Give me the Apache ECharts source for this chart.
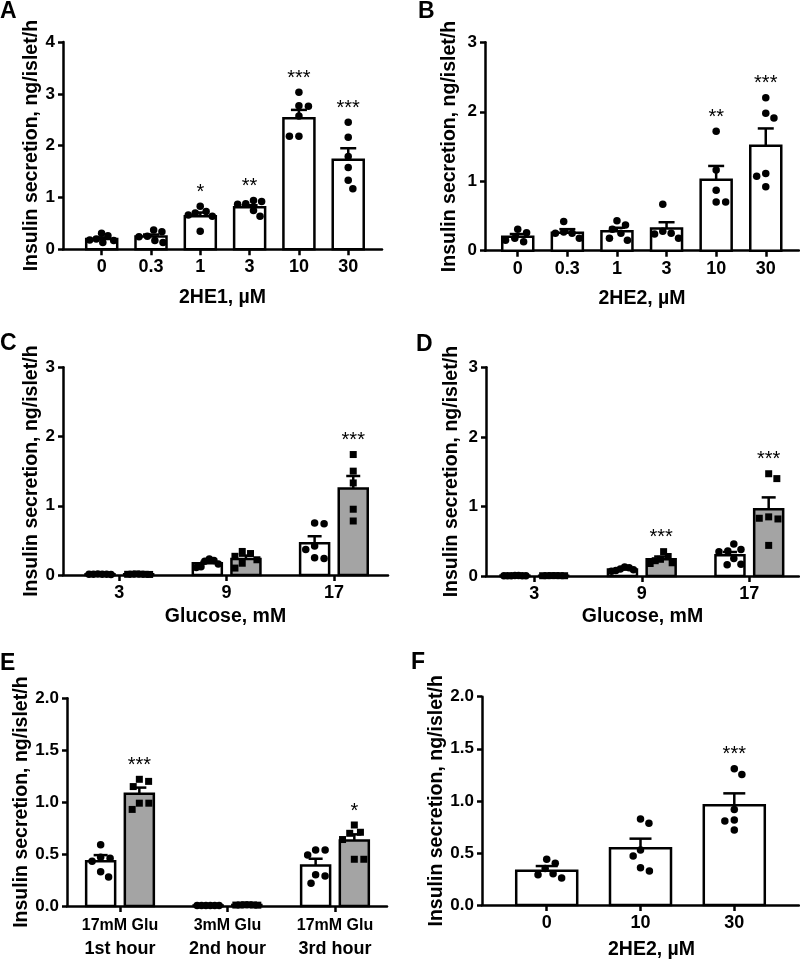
<!DOCTYPE html>
<html><head><meta charset="utf-8">
<script src="https://cdn.jsdelivr.net/npm/echarts@6/dist/echarts.min.js"></script>
<style>html,body{margin:0;padding:0;background:#fff}#c{width:800px;height:965px}</style>
</head><body><div id="c"></div>
<script>
// ================= DATA =================
// Panel A : 2HE1
const catsA = ['0', '0.3', '1', '3', '10', '30'];
const meanA = [0.20, 0.245, 0.64, 0.81, 2.53, 1.73];
const semA  = [0.03, 0.04, 0.07, 0.04, 0.16, 0.22];
const ptsA  = [
  [0.17, 0.20, 0.31, 0.13, 0.26, 0.18],
  [0.24, 0.37, 0.34, 0.13, 0.17, 0.25],
  [0.73, 0.70, 0.66, 0.83, 0.64, 0.35],
  [0.94, 0.88, 0.87, 0.92, 0.64, 0.75],
  [3.03, 2.76, 2.77, 2.57, 2.18, 2.18],
  [2.45, 2.16, 1.79, 1.58, 1.33, 1.17]
];
const sigA  = ['', '', '*', '**', '***', '***'];

// Panel B : 2HE2
const catsB = ['0', '0.3', '1', '3', '10', '30'];
const meanB = [0.20, 0.26, 0.28, 0.32, 1.02, 1.51];
const semB  = [0.04, 0.05, 0.05, 0.09, 0.20, 0.25];
const ptsB  = [
  [0.18, 0.31, 0.26, 0.13, 0.15],
  [0.25, 0.18, 0.42, 0.25, 0.27],
  [0.37, 0.25, 0.15, 0.31, 0.43, 0.18],
  [0.67, 0.25, 0.18, 0.24, 0.28],
  [1.72, 1.16, 0.87, 0.70, 0.70],
  [2.20, 1.91, 1.98, 1.11, 1.07, 0.92]
];
const sigB  = ['', '', '', '', '**', '***'];

// Panel C : Glucose (open = circles, filled = squares)
const catsC = ['3', '9', '17'];
const meanC_open = [0.01, 0.17, 0.46];
const semC_open  = [0.003, 0.02, 0.10];
const ptsC_open  = [
  [0.010, 0.012, 0.015, 0.010, 0.006, 0.012],
  [0.23, 0.20, 0.11, 0.12, 0.21, 0.16],
  [0.74, 0.75, 0.42, 0.37, 0.24, 0.25]
];
const meanC_fill = [0.01, 0.23, 1.25];
const semC_fill  = [0.003, 0.05, 0.18];
const ptsC_fill  = [
  [0.012, 0.010, 0.015, 0.010, 0.008, 0.012],
  [0.31, 0.27, 0.10, 0.34, 0.22, 0.17],
  [1.74, 1.50, 1.33, 0.95, 0.78]
];
const sigC_fill  = ['', '', '***'];

// Panel D : Glucose
const catsD = ['3', '9', '17'];
const meanD_open = [0.005, 0.095, 0.30];
const semD_open  = [0.001, 0.01, 0.045];
const ptsD_open  = [
  [0.005, 0.004, 0.006, 0.005, 0.004, 0.006, 0.005],
  [0.09, 0.12, 0.08, 0.13, 0.10, 0.07],
  [0.46, 0.35, 0.36, 0.38, 0.25, 0.16, 0.17]
];
const meanD_fill = [0.005, 0.24, 0.96];
const semD_fill  = [0.001, 0.04, 0.17];
const ptsD_fill  = [
  [0.005, 0.004, 0.006, 0.005, 0.004, 0.006],
  [0.28, 0.24, 0.35, 0.18, 0.22, 0.19],
  [1.40, 1.47, 0.83, 0.82, 0.85, 0.44]
];
const sigD_fill  = ['', '***', '***'];

// Panel E : sequential hours
const catsE_line1 = ['17mM Glu', '3mM Glu', '17mM Glu'];
const catsE_line2 = ['1st hour', '2nd hour', '3rd hour'];
const meanE_open = [0.43, 0.005, 0.39];
const semE_open  = [0.06, 0.001, 0.065];
const ptsE_open  = [
  [0.59, 0.47, 0.46, 0.33, 0.28, 0.43],
  [0.005, 0.006, 0.004, 0.005, 0.006, 0.004],
  [0.54, 0.49, 0.54, 0.30, 0.22, 0.29]
];
const meanE_fill = [1.08, 0.01, 0.63];
const semE_fill  = [0.06, 0.002, 0.06];
const ptsE_fill  = [
  [1.20, 1.15, 1.22, 0.99, 0.99, 0.93],
  [0.010, 0.012, 0.008, 0.010, 0.012, 0.009],
  [0.78, 0.71, 0.70, 0.64, 0.45, 0.45]
];
const sigE_fill  = ['***', '', '*'];

// Panel F : 2HE2
const catsF = ['0', '10', '30'];
const meanF = [0.33, 0.544, 0.957];
const semF  = [0.044, 0.093, 0.115];
const ptsF  = [
  [0.44, 0.40, 0.30, 0.26, 0.29, 0.35],
  [0.784, 0.826, 0.528, 0.47, 0.326, 0.358],
  [1.309, 1.254, 0.918, 0.816, 0.806, 0.72]
];
const sigF  = ['', '', '***'];

const yNames = 'Insulin secretion, ng/islet/h';

// ================= LAYOUT / STYLE =================
const FONT = 'Liberation Sans, Arial, Helvetica, sans-serif';
const GRAY = '#a4a4a4';
const LW = 2.5;
const DOT = 7.5;

const panels = [
  {key:'A', left:63,  top:42,    width:319, height:207.3, xmin:-0.785, xmax:5.685, ymax:4, yint:1,   dec:0, barW:31, cap:8,  yGap:18, xGap:38, xName:'2HE1, µM', cats:catsA, letter:[0,0],
   groups:[{off:0, mean:meanA, sem:semA, pts:ptsA, fill:'#fff', sym:'circle', sig:sigA}]},
  {key:'B', left:485, top:42.3,  width:314, height:208.4, xmin:-0.66,  xmax:5.67,  ymax:3, yint:1,   dec:0, barW:31, cap:8,  yGap:25, xGap:38, xName:'2HE2, µM', cats:catsB, letter:[418,0],
   groups:[{off:0, mean:meanB, sem:semB, pts:ptsB, fill:'#fff', sym:'circle', sig:sigB}]},
  {key:'C', left:63,  top:367.3, width:325, height:207.7, xmin:-0.525, xmax:2.504, ymax:3, yint:1,   dec:0, barW:29, cap:7,  yGap:18, xGap:32, xName:'Glucose, mM', cats:catsC, letter:[0,332],
   groups:[{off:-0.18, mean:meanC_open, sem:semC_open, pts:ptsC_open, fill:'#fff', sym:'circle', sig:null},
           {off:0.18,  mean:meanC_fill, sem:semC_fill, pts:ptsC_fill, fill:GRAY,  sym:'rect',   sig:sigC_fill}]},
  {key:'D', left:486, top:367.3, width:313, height:208.7, xmin:-0.449, xmax:2.462, ymax:3, yint:1,   dec:0, barW:29, cap:7,  yGap:24, xGap:31, xName:'Glucose, mM', cats:catsD, letter:[416,333],
   groups:[{off:-0.18, mean:meanD_open, sem:semD_open, pts:ptsD_open, fill:'#fff', sym:'circle', sig:null},
           {off:0.18,  mean:meanD_fill, sem:semD_fill, pts:ptsD_fill, fill:GRAY,  sym:'rect',   sig:sigD_fill}]},
  {key:'E', left:67,  top:698.3, width:320, height:207.7, xmin:-0.493, xmax:2.484, ymax:2, yint:0.5, dec:1, barW:29, cap:7,  yGap:30, xGap:0,  xName:'', cats:null, letter:[0,652],
   groups:[{off:-0.18, mean:meanE_open, sem:semE_open, pts:ptsE_open, fill:'#fff', sym:'circle', sig:null},
           {off:0.18,  mean:meanE_fill, sem:semE_fill, pts:ptsE_fill, fill:GRAY,  sym:'rect',   sig:sigE_fill}]},
  {key:'F', left:482, top:696.7, width:317, height:208.3, xmin:-0.69,  xmax:2.69,  ymax:2, yint:0.5, dec:1, barW:61, cap:11, yGap:35, xGap:35, xName:'2HE2, µM', cats:catsF, letter:[411,651],
   groups:[{off:0, mean:meanF, sem:semF, pts:ptsF, fill:'#fff', sym:'circle', sig:sigF}]}
];

// beeswarm offsets in pixels, compressed to fit inside the bar
function swarm(vals, pyScale, D, maxSpan) {
  const idx = vals.map((v, i) => i).sort((a, b) => vals[b] - vals[a]);
  const placed = []; const out = new Array(vals.length); let side = 1;
  for (const i of idx) {
    const y = vals[i] * pyScale; const iv = [];
    for (const q of placed) {
      const dy = Math.abs(q.y - y);
      if (dy < D) { const h = Math.sqrt(D * D - dy * dy); iv.push([q.x - h, q.x + h]); }
    }
    const cands = [0]; iv.forEach(r => cands.push(r[0], r[1]));
    const ok = cands.filter(c => iv.every(r => c <= r[0] + 1e-6 || c >= r[1] - 1e-6));
    ok.sort((a, b) => (Math.abs(a) - Math.abs(b)) || (side * (b - a)));
    const x = ok[0]; placed.push({x, y}); out[i] = x;
    if (x !== 0) side = -Math.sign(x);
  }
  const lo = Math.min(...out), hi = Math.max(...out);
  const span = hi - lo;
  if (span > maxSpan) {
    const k = maxSpan / span, mid = (hi + lo) / 2;
    return out.map(x => (x - mid) * k);
  }
  return out;
}

const axisColor = '#000';
const grids = [], xAxes = [], yAxes = [], series = [], graphics = [];

panels.forEach((p, pi) => {
  grids.push({left:p.left, top:p.top, width:p.width, height:p.height, containLabel:false});
  const n = p.groups[0].mean.length;
  const ticks = Array.from({length:n}, (_, i) => i);
  const labelBase = {color:'#000', fontFamily:FONT, fontSize:18, fontWeight:'bold', margin:9};
  let axisLabel;
  if (p.key === 'E') {
    axisLabel = Object.assign({}, labelBase, {
      customValues: ticks, margin: 9,
      formatter: v => '{a|' + catsE_line1[Math.round(v)] + '}\n{b|' + catsE_line2[Math.round(v)] + '}',
      rich: {
        a: {fontFamily:FONT, fontSize:16, fontWeight:'bold', color:'#000', lineHeight:22},
        b: {fontFamily:FONT, fontSize:18, fontWeight:'bold', color:'#000', lineHeight:25}
      }
    });
  } else {
    axisLabel = Object.assign({}, labelBase, {customValues: ticks, formatter: v => p.cats[Math.round(v)]});
  }
  xAxes.push({
    gridIndex:pi, type:'value', min:p.xmin, max:p.xmax,
    axisLine:{show:true, onZero:false, lineStyle:{color:axisColor, width:LW}},
    axisTick:{show:true, customValues:ticks, length:6, inside:false, lineStyle:{color:axisColor, width:LW}},
    axisLabel: axisLabel,
    splitLine:{show:false},
    name:p.xName, nameLocation:'middle', nameGap:p.xGap,
    nameTextStyle:{color:'#000', fontFamily:FONT, fontSize:19.5, fontWeight:'bold', verticalAlign:'top',
      padding: p.key === 'F' ? [0,0,0,22] : 0}
  });
  yAxes.push({
    gridIndex:pi, type:'value', min:0, max:p.ymax, interval:p.yint,
    axisLine:{show:true, onZero:false, lineStyle:{color:axisColor, width:LW}},
    axisTick:{show:true, length:5, lineStyle:{color:axisColor, width:LW}},
    axisLabel:{color:'#000', fontFamily:FONT, fontSize:17, fontWeight:'bold', margin:8,
      formatter: v => v.toFixed(p.dec)},
    splitLine:{show:false},
    name:yNames, nameLocation:'middle', nameGap:p.yGap, nameRotate:90,
    nameTextStyle:{color:'#000', fontFamily:FONT, fontSize:19.5, fontWeight:'bold'}
  });

  const pxX = p.width / (p.xmax - p.xmin);
  const pxY = p.height / p.ymax;

  p.groups.forEach(g => {
    const barData = g.mean.map((m, i) => [i + g.off, m, g.sem[i]]);
    series.push({
      type:'custom', xAxisIndex:pi, yAxisIndex:pi, silent:true, z:2,
      encode:{x:0, y:1},
      data:barData,
      renderItem:(params, api) => {
        const x = api.value(0), m = api.value(1), s = api.value(2);
        const p0 = api.coord([x, 0]), p1 = api.coord([x, m]), p2 = api.coord([x, m + s]);
        const w = p.barW;
        return {type:'group', children:[
          {type:'rect', shape:{x:p0[0] - w / 2, y:p1[1], width:w, height:Math.max(p0[1] - p1[1], 0)},
           style:{fill:g.fill, stroke:'#000', lineWidth:LW}},
          {type:'line', shape:{x1:p1[0], y1:p1[1], x2:p2[0], y2:p2[1]}, style:{stroke:'#000', lineWidth:LW}},
          {type:'line', shape:{x1:p2[0] - p.cap, y1:p2[1], x2:p2[0] + p.cap, y2:p2[1]}, style:{stroke:'#000', lineWidth:LW}}
        ]};
      }
    });
    const dots = [];
    g.pts.forEach((arr, i) => {
      const offs = swarm(arr, pxY, 9.5, p.barW - 7);
      arr.forEach((v, j) => dots.push([i + g.off + offs[j] / pxX, v]));
    });
    series.push({
      type:'scatter', xAxisIndex:pi, yAxisIndex:pi, silent:true, z:3,
      symbol:g.sym, symbolSize:g.sym === 'rect' ? 7 : DOT,
      itemStyle:{color:'#000', opacity:1}, data:dots
    });
    if (g.sig) {
      const sigData = [];
      g.sig.forEach((s, i) => { if (s) sigData.push([i + g.off, Math.max(...g.pts[i], g.mean[i] + g.sem[i]), s]); });
      series.push({
        type:'custom', xAxisIndex:pi, yAxisIndex:pi, silent:true, z:4, encode:{x:0, y:1},
        data:sigData,
        renderItem:(params, api) => {
          const c = api.coord([api.value(0), api.value(1)]);
          return {type:'text', x:c[0], y:c[1] - 14,
            style:{text:sigData[params.dataIndex][2], fill:'#000', fontFamily:FONT, fontSize:20,
              align:'center', verticalAlign:'middle'}};
        }
      });
    }
  });

  graphics.push({type:'text', left:p.letter[0], top:p.letter[1],
    style:{text:p.key, fill:'#000', fontFamily:FONT, fontSize:23, fontWeight:'bold'}});
});

const chart = echarts.init(document.getElementById('c'), null, {renderer:'canvas'});
chart.setOption({
  backgroundColor:'#fff',
  animation:false,
  grid:grids, xAxis:xAxes, yAxis:yAxes, series:series, graphic:graphics
});
</script></body></html>
